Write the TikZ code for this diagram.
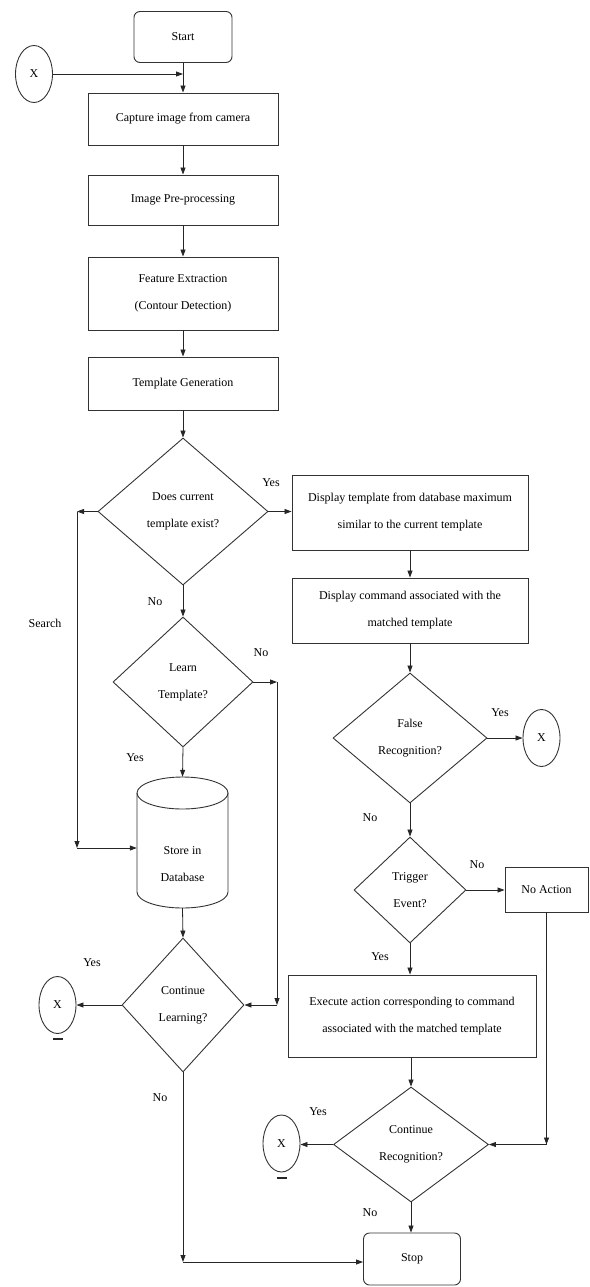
\documentclass[tikz,border=0pt]{standalone}
\usepackage{fontspec}
\setmainfont{Liberation Serif}
\usetikzlibrary{shapes.geometric,arrows.meta}
\begin{document}
\begin{tikzpicture}[x=1pt,y=-1pt,
  font=\fontsize{12}{27}\selectfont,
  box/.style={draw=black!80, line width=0.9pt, rectangle, align=center, inner sep=2pt},
  term/.style={box, rounded corners=6pt},
  dec/.style={draw=black!80, line width=0.9pt, diamond, align=center, inner sep=0pt},
  conn/.style={draw=black!80, line width=0.9pt, ellipse, inner sep=0pt, minimum width=37pt, minimum height=57pt},
  arr/.style={draw=black!85, line width=0.8pt, -{Triangle[length=7pt,width=5pt]}},
  lab/.style={font=\fontsize{12}{14}\selectfont, inner sep=0pt},
  markbar/.style={line width=2.2pt, draw=black!85}
]
\useasboundingbox (0,0) rectangle (589,1287);

% left column
\node[term, minimum width=98pt, minimum height=51pt] (start) at (183,37) {Start};
\node[conn] (xtop) at (34,74) {X};
\node[box, minimum width=190pt, minimum height=52pt] (cap) at (183,119) {Capture image from camera};
\node[box, minimum width=190pt, minimum height=50pt] (pre) at (183,200) {Image Pre-processing};
\node[box, minimum width=190pt, minimum height=73pt] (feat) at (183,293.5) {Feature Extraction\\(Contour Detection)};
\node[box, minimum width=190pt, minimum height=53pt] (tg) at (183,383.5) {Template Generation};
\node[dec, minimum width=170pt, minimum height=147pt] (d1) at (183,511.5) {Does current\\template exist?};
\node[dec, minimum width=140pt, minimum height=130pt] (learn) at (183,682) {Learn\\Template?};
\node[minimum width=91pt, minimum height=131pt, inner sep=0pt] (store) at (182.5,842.5) {};
\node[dec, minimum width=122pt, minimum height=134pt] (cl) at (183,1005) {Continue\\Learning?};
\node[conn] (xleft) at (57.5,1005) {X};

% cylinder drawing for store
\filldraw[fill=white, draw=black!80, line width=0.9pt]
  (137,793) -- (137,892) arc[start angle=180, end angle=360, x radius=45.5pt, y radius=16pt] -- (228,793);
\draw[draw=black!80, line width=0.9pt] (182.5,793) ellipse[x radius=45.5pt, y radius=16pt];
\node[align=center, inner sep=0pt] (storetxt) at (182.5,864) {Store in\\Database};

% right column
\node[box, minimum width=236pt, minimum height=75pt] (disp) at (410,512.5) {Display template from database maximum\\similar to the current template};
\node[box, minimum width=236pt, minimum height=65pt] (dcmd) at (410,610.5) {Display command associated with the\\matched template};
\node[dec, minimum width=154pt, minimum height=130pt] (fr) at (410,738) {False\\Recognition?};
\node[conn] (xright) at (541.5,738) {X};
\node[dec, minimum width=112pt, minimum height=106pt] (trig) at (410,890) {Trigger\\Event?};
\node[box, minimum width=83pt, minimum height=45pt] (noact) at (546.5,889.5) {No Action};
\node[box, minimum width=248pt, minimum height=82pt] (exec) at (412,1016) {Execute action corresponding to command\\associated with the matched template};
\node[dec, minimum width=155pt, minimum height=115pt] (cr) at (411,1144.5) {Continue\\Recognition?};
\node[conn] (xbot) at (281.5,1143.5) {X};
\node[term, minimum width=97pt, minimum height=52pt] (stop) at (412,1259) {Stop};

% helper coordinates
\coordinate (s1) at (77,511.5);
\coordinate (s2) at (77,848);
\coordinate (n1) at (277,682);
\coordinate (n2) at (277,1005);
\coordinate (b1) at (183,1262);
\coordinate (r1) at (546.5,1144.5);

% connectors
\draw[arr] (start) -- (cap);
\draw[arr] (xtop.east) -- (xtop.east -| cap.north);
\draw[arr] (cap) -- (pre);
\draw[arr] (pre) -- (feat);
\draw[arr] (feat) -- (tg);
\draw[arr] (tg) -- (d1);
\draw[arr] (d1.east) -- (d1.east -| disp.west);
\draw[arr] (d1) -- (learn);
\draw[arr] (d1.west) -- (s1);
\draw[arr] (s1) -- (s2);
\draw[arr] (s2) -- (s2 -| store.west);
\draw[arr] (learn.east) -- (n1);
\draw[arr] (n1) -- (n2);
\draw[arr] (n2) -- (cl.east);
\draw[arr] (learn.south) -- (store.north);
\draw[arr] (store.south) -- (cl.north);
\draw[arr] (cl.west) -- (xleft.east);
\draw[arr] (cl.south) -- (b1);
\draw[arr] (b1) -- (b1 -| stop.west);

\draw[arr] (disp) -- (dcmd);
\draw[arr] (dcmd) -- (fr);
\draw[arr] (fr.east) -- (fr.east -| xright.west);
\draw[arr] (fr) -- (trig);
\draw[arr] (trig.east) -- (trig.east -| noact.west);
\draw[arr] (trig.south) -- (trig.south |- exec.north);
\draw[arr] (exec.south -| cr.north) -- (cr.north);
\draw[arr] (noact.south) -- (r1);
\draw[arr] (r1) -- (cr.east);
\draw[arr] (cr.west) -- (cr.west -| xbot.east);
\draw[arr] (cr.south) -- (cr.south |- stop.north);

% small marks under connectors
\draw[markbar] (53,1039) -- (63,1039);
\draw[markbar] (277,1178) -- (287,1178);

% labels
\node[lab] (l1) at (271,483) {Yes};
\node[lab] (l2) at (155,602) {No};
\node[lab] (l3) at (45,623) {Search};
\node[lab] (l4) at (261,653) {No};
\node[lab] (l5) at (135,758) {Yes};
\node[lab] (l6) at (92,963) {Yes};
\node[lab] (l7) at (160,1098) {No};
\node[lab] (l8) at (500,713) {Yes};
\node[lab] (l9) at (370,818) {No};
\node[lab] (l10) at (477,865) {No};
\node[lab] (l11) at (380,957) {Yes};
\node[lab] (l12) at (318,1112) {Yes};
\node[lab] (l13) at (370,1213) {No};
\end{tikzpicture}
\end{document}
